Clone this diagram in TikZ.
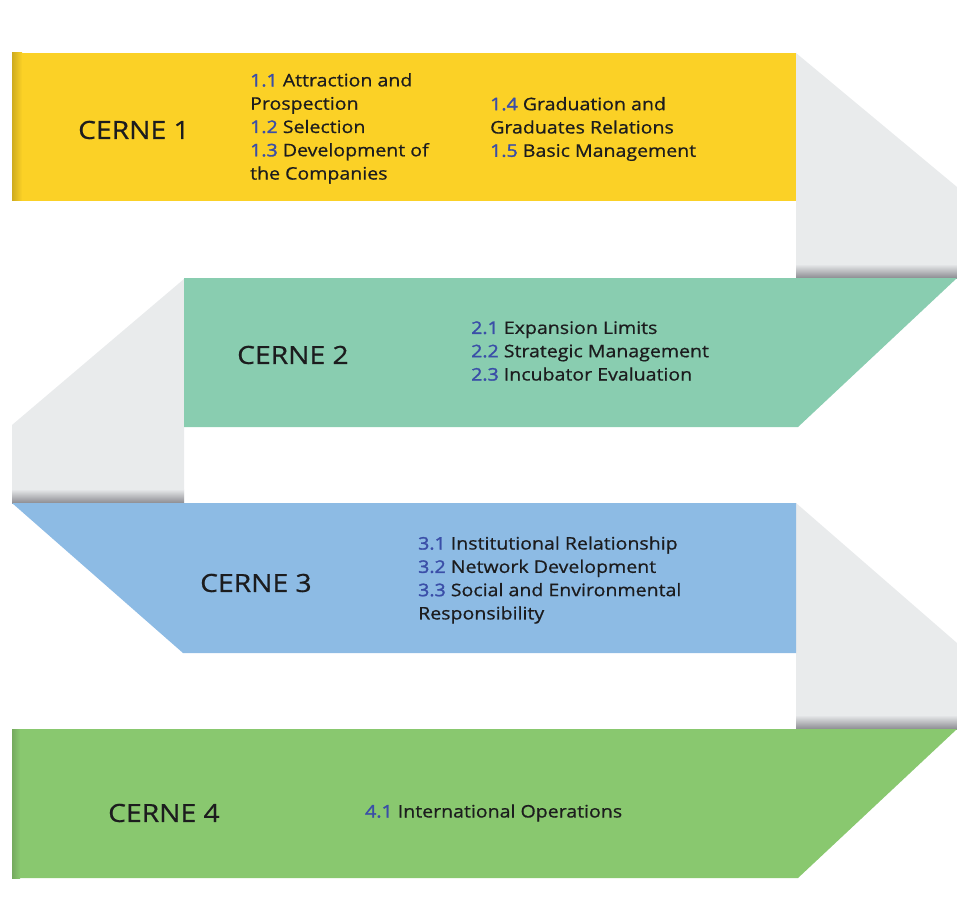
\documentclass[tikz,border=0pt]{standalone}
\usepackage{fontspec}
\setmainfont{Open Sans}[FakeStretch=1.13, FakeBold=0.7]
\newfontfamily\numfont{Open Sans}[FakeStretch=1.13, FakeBold=1.8]
\usetikzlibrary{fadings}

\definecolor{cyellow}{RGB}{251,209,38}
\definecolor{cteal}{RGB}{137,205,176}
\definecolor{cblue}{RGB}{141,187,228}
\definecolor{cgreen}{RGB}{137,200,111}
\definecolor{foldgray}{RGB}{233,235,236}
\definecolor{foldshadow}{RGB}{140,140,146}
\definecolor{numblue}{RGB}{58,78,168}
\definecolor{textdark}{RGB}{28,28,30}

\tikzfading[name=endsfade, top color=transparent!100, middle color=transparent!0, bottom color=transparent!100]

\tikzset{
  fold/.style={fill=foldgray},
  foldedge/.style={top color=foldgray, bottom color=foldshadow},
  title/.style={font=\fontsize{25}{30}\selectfont, text=textdark, anchor=west, inner sep=0pt},
  items/.style={font=\fontsize{17.3}{23.3}\selectfont, text=textdark, align=left, anchor=west, inner sep=0pt},
  spine/.style={left color=white, right color=gray!45, path fading=endsfade},
}
\newcommand{\nb}[1]{{\numfont\textcolor{numblue}{#1}}}

\begin{document}
\begin{tikzpicture}[x=1pt,y=-1pt]
\useasboundingbox (0,0) rectangle (957,917);

% binding shadows on the left edge
\shade[spine] (8,30) rectangle (16,258);
\shade[spine] (8,678) rectangle (16,917);

% folded backs between the bands
\fill[fold] (796,53) -- (957,187) -- (957,278) -- (796,278) -- cycle;
\shade[foldedge] (796,264) rectangle (957,278);
\fill[fold] (184,279) -- (184,503) -- (12,503) -- (12,425) -- cycle;
\shade[foldedge] (12,489) rectangle (184,503);
\fill[fold] (796,503) -- (957,643) -- (957,729) -- (796,729) -- cycle;
\shade[foldedge] (796,715) rectangle (957,729);

% the four bands
\fill[cyellow] (12,53) -- (796,53) -- (796,201) -- (12,201) -- cycle;
\shade[left color=cyellow!82!black, right color=cyellow] (12,53) rectangle (22,201);
\fill[cteal] (184,278) -- (957,278) -- (798,427) -- (184,427) -- cycle;
\fill[cblue] (12,503) -- (796,503) -- (796,653) -- (183,653) -- cycle;
\fill[cgreen] (12,729) -- (957,729) -- (798,878) -- (12,878) -- cycle;
\shade[left color=cgreen!85!black, right color=cgreen] (12,729) rectangle (20,878);

% CERNE 1
\node[title] (t1) at (78,130) {CERNE 1};
\node[items] (i1a) at (250,128.5) {\nb{1.1} Attraction and\\Prospection\\\nb{1.2} Selection\\\nb{1.3} Development of\\the Companies};
\node[items] (i1b) at (490,129) {\nb{1.4} Graduation and\\Graduates Relations\\\nb{1.5} Basic Management};

% CERNE 2
\node[title] (t2) at (237,355) {CERNE 2};
\node[items] (i2) at (471,351) {\nb{2.1} Expansion Limits\\\nb{2.2} Strategic Management\\\nb{2.3} Incubator Evaluation};

% CERNE 3
\node[title] (t3) at (200,583) {CERNE 3};
\node[items] (i3) at (418,580) {\nb{3.1} Institutional Relationship\\\nb{3.2} Network Development\\\nb{3.3} Social and Environmental\\Responsibility};

% CERNE 4
\node[title] (t4) at (108,813) {CERNE 4};
\node[items] (i4) at (365,813) {\nb{4.1} International Operations};
\end{tikzpicture}
\end{document}
